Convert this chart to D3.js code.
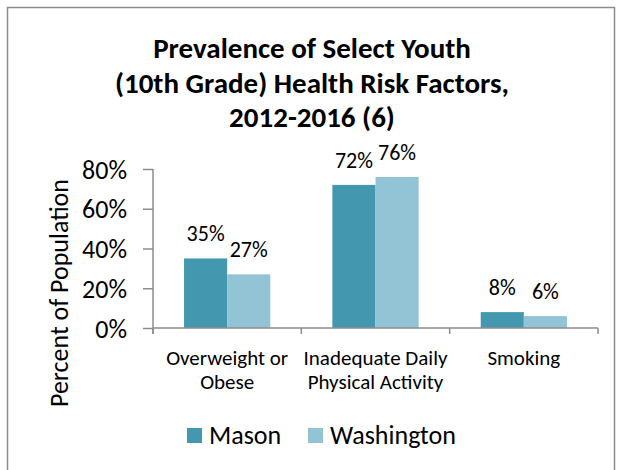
<!DOCTYPE html>
<html><head><meta charset="utf-8">
<script src="https://cdn.jsdelivr.net/npm/d3@7"></script>
<style>body{margin:0;background:#fff;} svg{display:block;}</style>
</head><body>
<svg id="c" width="621" height="470"></svg>
<script>
const categories = [["Overweight or","Obese"],["Inadequate Daily","Physical Activity"],["Smoking"]];
const seriesNames = ["Mason","Washington"];
const mason = [35,72,8];
const washington = [27,76,6];
const yTicks = [0,20,40,60,80];
const titleLines = ["Prevalence of Select Youth","(10th Grade) Health Risk Factors,","2012-2016 (6)"];
const colors = ["#4398b0","#93c4d6"];
const font = "Carlito, Calibri, 'Open Sans', sans-serif";

const svg = d3.select("#c");
svg.append("rect").attr("x",7.5).attr("y",7.5).attr("width",607).attr("height",480)
  .attr("fill","#fff").attr("stroke","#8c8c8c").attr("stroke-width",1.5);

svg.append("g").selectAll("text").data(titleLines).join("text")
  .attr("x",312).attr("y",(d,i)=>58+i*34.5).attr("text-anchor","middle")
  .attr("font-family",font).attr("font-weight","bold").attr("font-size",29).attr("fill","#000").text(d=>d);

const x0 = d3.scaleBand().domain(d3.range(categories.length)).range([153,598]).paddingInner(0).paddingOuter(0);
const x1 = d3.scaleBand().domain([0,1]).range([0,x0.bandwidth()]).paddingOuter(0.72).paddingInner(0);
const y = d3.scaleLinear().domain([0,80]).range([328,169]);

const data = categories.map((c,i)=>({i, vals:[mason[i],washington[i]]}));
const g = svg.append("g");
const grp = g.selectAll("g.cat").data(data).join("g").attr("transform",d=>`translate(${x0(d.i)},0)`);
grp.selectAll("rect").data(d=>d.vals.map((v,k)=>({v,k}))).join("rect")
  .attr("x",d=>x1(d.k)).attr("width",x1.bandwidth()).attr("y",d=>y(d.v)).attr("height",d=>y(0)-y(d.v))
  .attr("fill",d=>colors[d.k]);
grp.selectAll("text").data(d=>d.vals.map((v,k)=>({v,k}))).join("text")
  .attr("x",d=>x1(d.k)+x1.bandwidth()/2).attr("y",d=>y(d.v)-17).attr("text-anchor","middle")
  .attr("font-family",font).attr("font-size",22).attr("fill","#000").text(d=>d.v+"%");

// y axis
const ya = svg.append("g").attr("transform","translate(153,0)")
  .call(d3.axisLeft(y).tickValues(yTicks).tickFormat(d=>d+"%").tickSize(10).tickPadding(16));
ya.select(".domain").attr("stroke","#8c8c8c").attr("stroke-width",1.5).attr("d","M0,169V334");
ya.selectAll(".tick line").attr("stroke","#8c8c8c").attr("stroke-width",1.5);
ya.selectAll(".tick text").attr("font-family",font).attr("font-size",26).attr("fill","#000").attr("dy","0.35em");

// x axis
const xa = svg.append("g").attr("transform","translate(0,328)");
xa.append("line").attr("x1",153).attr("x2",598).attr("stroke","#8c8c8c").attr("stroke-width",1.5);
const bounds = d3.range(categories.length+1).map(i=> i<categories.length ? x0(i) : x0(i-1)+x0.bandwidth());
xa.selectAll("line.t").data(bounds).join("line").attr("class","t")
  .attr("x1",d=>d).attr("x2",d=>d).attr("y1",0).attr("y2",6).attr("stroke","#8c8c8c").attr("stroke-width",1.5);
const xl = svg.append("g");
data.forEach(d=>{
  const t = xl.append("text").attr("text-anchor","middle").attr("font-family",font).attr("font-size",21).attr("fill","#000");
  categories[d.i].forEach((line,j)=>{
    t.append("tspan").attr("x",x0(d.i)+x0.bandwidth()/2).attr("y",365+j*24).text(line);
  });
});

// y title
svg.append("text").attr("transform","translate(68,293) rotate(-90)").attr("text-anchor","middle")
  .attr("font-family",font).attr("font-size",26).attr("fill","#000").text("Percent of Population");

// legend
const legX = [187,308];
const lg = svg.append("g");
seriesNames.forEach((n,k)=>{
  lg.append("rect").attr("x",legX[k]).attr("y",428).attr("width",15).attr("height",15).attr("fill",colors[k]);
  lg.append("text").attr("x",legX[k]+22).attr("y",444).attr("font-family",font).attr("font-size",26).attr("fill","#000").text(n);
});
</script>
</body></html>
